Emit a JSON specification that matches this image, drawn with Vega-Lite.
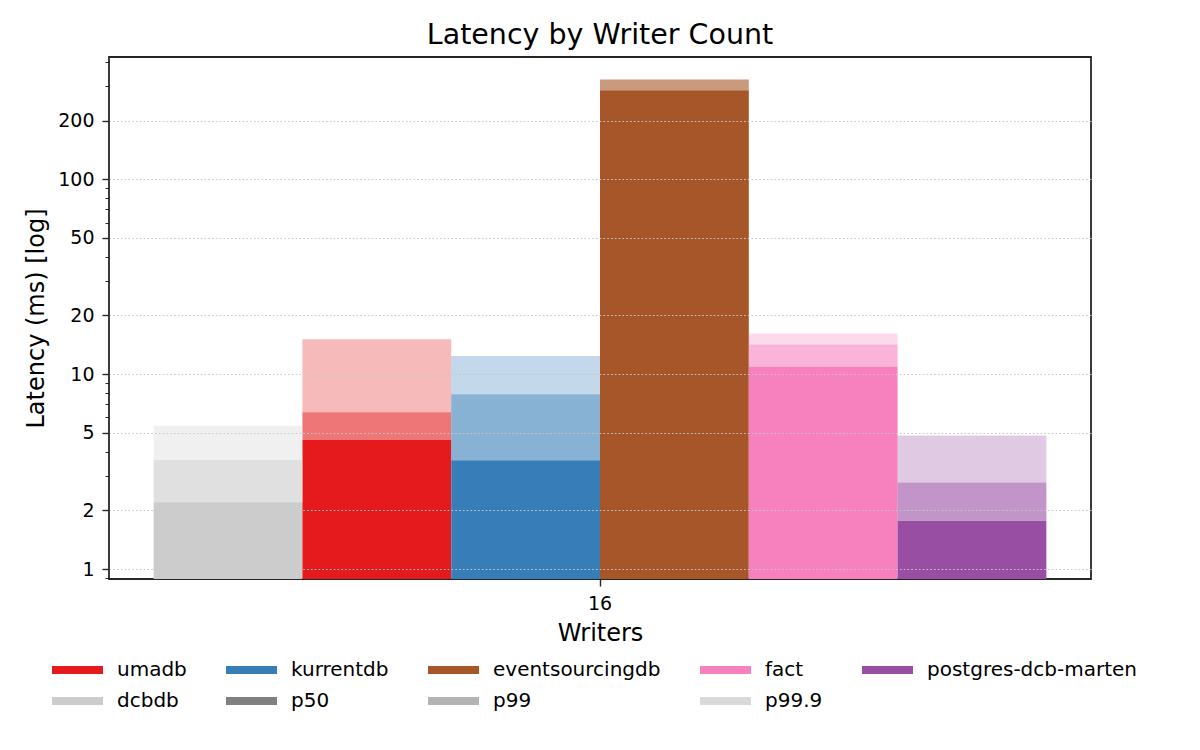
{
  "$schema": "https://vega.github.io/schema/vega-lite/v6.json",
  "autosize": {"type": "none"},
  "width": 982,
  "height": 522,
  "padding": {"left": 109, "top": 57, "right": 109, "bottom": 171},
  "background": "white",
  "title": {
    "text": "Latency by Writer Count",
    "font": "DejaVu Sans",
    "fontSize": 28.5,
    "fontWeight": "normal",
    "color": "black",
    "anchor": "middle",
    "frame": "group",
    "baseline": "alphabetic",
    "offset": -15
  },
  "data": {
    "values": [
      {"writers": "16", "db": "dcbdb", "p50": 2.2, "p99": 3.64, "p999": 5.44},
      {"writers": "16", "db": "umadb", "p50": 4.59, "p99": 6.38, "p999": 15.1},
      {"writers": "16", "db": "kurrentdb", "p50": 3.62, "p99": 7.89, "p999": 12.4},
      {"writers": "16", "db": "eventsourcingdb", "p50": 286, "p99": 323, "p999": 327},
      {"writers": "16", "db": "fact", "p50": 10.95, "p99": 14.2, "p999": 16.15},
      {"writers": "16", "db": "postgres-dcb-marten", "p50": 1.77, "p99": 2.78, "p999": 4.85}
    ]
  },
  "encoding": {
    "x": {
      "field": "writers",
      "type": "nominal",
      "scale": {"paddingInner": 0, "paddingOuter": 0.05},
      "axis": {
        "title": "Writers",
        "labelAngle": 0,
        "labelFontSize": 19,
        "labelPadding": 8,
        "tickSize": 7,
        "tickWidth": 1.4,
        "titleFontSize": 24,
        "titlePadding": 8
      }
    },
    "xOffset": {
      "field": "db",
      "type": "nominal",
      "sort": ["dcbdb", "umadb", "kurrentdb", "eventsourcingdb", "fact", "postgres-dcb-marten"],
      "scale": {"paddingInner": 0, "paddingOuter": 0}
    },
    "color": {
      "field": "db",
      "type": "nominal",
      "scale": {
        "domain": ["umadb", "dcbdb", "kurrentdb", "p50", "eventsourcingdb", "p99", "fact", "p99.9", "postgres-dcb-marten"],
        "range": ["#e41a1c", "#cccccc", "#377eb8", "#808080", "#a65628", "#b3b3b3", "#f781bf", "#d9d9d9", "#984ea3"]
      },
      "legend": {
        "title": null,
        "orient": "none",
        "legendX": -63,
        "legendY": 603,
        "columns": 5,
        "symbolType": "M-1,-1H11.75V1H-1Z",
        "symbolSize": 64,
        "symbolStrokeWidth": 0,
        "symbolOpacity": 1,
        "labelFontSize": 20,
        "labelFont": "DejaVu Sans",
        "labelColor": "black",
        "labelLimit": 400,
        "labelOffset": 51,
        "columnPadding": 33,
        "rowPadding": 11
      }
    }
  },
  "layer": [
    {
      "mark": {"type": "bar", "opacity": 1},
      "encoding": {
        "y": {
          "field": "p50",
          "type": "quantitative",
          "scale": {"type": "log", "domain": [0.889, 424], "nice": false, "clamp": true},
          "axis": {
            "orient": "left",
            "title": "Latency (ms) [log]",
            "values": [1, 2, 5, 10, 20, 50, 100, 200],
            "format": "d",
            "labelFontSize": 19,
            "labelPadding": 8,
            "tickSize": 7,
            "tickWidth": 1.4,
            "titleFontSize": 24,
            "titlePadding": 9,
            "grid": true,
            "gridColor": "#c8c8c8",
            "gridDash": [1.6, 2.2],
            "gridWidth": 1.2,
            "zindex": 1
          }
        }
      }
    },
    {
      "mark": {"type": "bar", "opacity": 0.6},
      "encoding": {
        "y": {
          "field": "p99",
          "type": "quantitative",
          "axis": {
            "orient": "left",
            "title": null,
            "values": [0.9, 3, 4, 6, 7, 8, 9, 30, 40, 60, 70, 80, 90, 300, 400],
            "labels": false,
            "grid": false,
            "tickSize": 4,
            "tickWidth": 1,
            "zindex": 1
          }
        },
        "y2": {"field": "p50"}
      }
    },
    {
      "mark": {"type": "bar", "opacity": 0.3},
      "encoding": {
        "y": {"field": "p999", "type": "quantitative", "axis": null},
        "y2": {"field": "p99"}
      }
    }
  ],
  "resolve": {"axis": {"y": "independent"}},
  "config": {
    "font": "DejaVu Sans",
    "view": {"stroke": "#262626", "strokeWidth": 1.8},
    "axis": {
      "domain": false,
      "labelColor": "black",
      "labelFont": "DejaVu Sans",
      "titleFont": "DejaVu Sans",
      "titleColor": "black",
      "titleFontWeight": "normal",
      "tickColor": "#262626",
      "grid": false
    }
  }
}
